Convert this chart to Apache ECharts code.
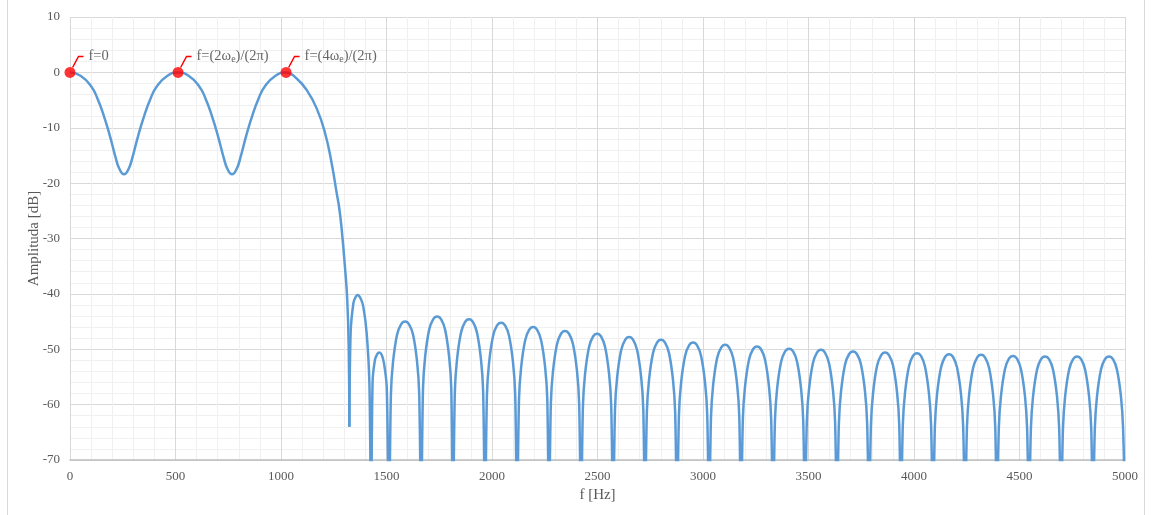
<!DOCTYPE html>
<html>
<head>
<meta charset="utf-8">
<script src="https://cdn.jsdelivr.net/npm/echarts@6/dist/echarts.min.js"></script>
<style>
    html, body { margin: 0; padding: 0; background: #fff; }
    #chart { width: 1152px; height: 515px; }
</style>
</head>
<body>
<div id="chart"></div>
<script>
    // passband: 0 .. first null (Hz, dB)
    const passband = [
        [0, 0], [50, -0.6], [100, -2.5], [130, -4.7], [160, -7.8], [190, -11.6], [215, -15.2], [235, -17.5],
        [256, -18.4], [277, -17.5], [297, -15.2], [322, -11.6], [352, -7.8], [382, -4.7], [412, -2.5], [462, -0.6],
        [512, 0], [562, -0.6], [612, -2.5], [642, -4.7], [672, -7.8], [702, -11.6], [727, -15.2], [747, -17.5],
        [768, -18.4], [789, -17.5], [809, -15.2], [834, -11.6], [864, -7.8], [894, -4.7], [924, -2.5], [974, -0.6],
        [1024, 0], [1074, -1.1], [1122, -3.2], [1169, -6.5], [1209, -11.0], [1240, -16.4], [1264, -21.8],
        [1276, -24.5], [1288, -28.5], [1303, -35.1], [1314, -41.1], [1321, -50.1], [1324, -64]
    ];

    // first two lobes after the transition
    const transitionLobes = [
        [1324, -64], [1330, -47], [1343, -41.7], [1353, -40.6], [1363, -40.2], [1377, -40.8], [1390, -42.3],
        [1406, -47.1], [1419, -56.2], [1427, -80],
        [1434, -56], [1445, -52], [1456, -50.9], [1466, -50.6], [1477, -51.0], [1488, -52.5], [1501, -56.8]
    ];

    // stopband side lobes, one row per lobe
    const sideLobes = [
        [1512, -80], [1521, -58.0], [1531, -52.3], [1550, -47.4], [1569, -45.5], [1588, -45.0], [1607, -45.5], [1626, -47.4], [1645, -52.3], [1655, -58.0],
        [1664, -80], [1673, -57.1], [1683, -51.4], [1702, -46.5], [1721, -44.6], [1740, -44.1], [1759, -44.6], [1778, -46.5], [1797, -51.4], [1807, -57.1],
        [1815, -80], [1824, -57.6], [1834, -51.9], [1853, -47.0], [1872, -45.1], [1891, -44.6], [1910, -45.1], [1929, -47.0], [1948, -51.9], [1958, -57.6],
        [1967, -80], [1976, -58.2], [1986, -52.5], [2005, -47.6], [2024, -45.7], [2043, -45.2], [2062, -45.7], [2081, -47.6], [2100, -52.5], [2110, -58.2],
        [2119, -80], [2128, -59.0], [2138, -53.3], [2157, -48.4], [2176, -46.5], [2195, -46.0], [2214, -46.5], [2233, -48.4], [2252, -53.3], [2262, -59.0],
        [2270, -80], [2279, -59.7], [2289, -54.0], [2308, -49.1], [2327, -47.2], [2346, -46.7], [2365, -47.2], [2384, -49.1], [2403, -54.0], [2413, -59.7],
        [2422, -80], [2431, -60.2], [2441, -54.5], [2460, -49.6], [2479, -47.7], [2498, -47.2], [2517, -47.7], [2536, -49.6], [2555, -54.5], [2565, -60.2],
        [2574, -80], [2583, -60.8], [2593, -55.1], [2612, -50.2], [2631, -48.3], [2650, -47.8], [2669, -48.3], [2688, -50.2], [2707, -55.1], [2717, -60.8],
        [2725, -80], [2734, -61.3], [2744, -55.6], [2763, -50.7], [2782, -48.8], [2801, -48.3], [2820, -48.8], [2839, -50.7], [2858, -55.6], [2868, -61.3],
        [2877, -80], [2886, -61.8], [2896, -56.1], [2915, -51.2], [2934, -49.3], [2953, -48.8], [2972, -49.3], [2991, -51.2], [3010, -56.1], [3020, -61.8],
        [3029, -80], [3038, -62.2], [3048, -56.5], [3067, -51.6], [3086, -49.7], [3105, -49.2], [3124, -49.7], [3143, -51.6], [3162, -56.5], [3172, -62.2],
        [3180, -80], [3189, -62.5], [3199, -56.8], [3218, -51.9], [3237, -50.0], [3256, -49.5], [3275, -50.0], [3294, -51.9], [3313, -56.8], [3323, -62.5],
        [3332, -80], [3341, -62.9], [3351, -57.2], [3370, -52.3], [3389, -50.4], [3408, -49.9], [3427, -50.4], [3446, -52.3], [3465, -57.2], [3475, -62.9],
        [3483, -80], [3492, -63.1], [3502, -57.4], [3521, -52.5], [3540, -50.6], [3559, -50.1], [3578, -50.6], [3597, -52.5], [3616, -57.4], [3626, -63.1],
        [3635, -80], [3644, -63.4], [3654, -57.7], [3673, -52.8], [3692, -50.9], [3711, -50.4], [3730, -50.9], [3749, -52.8], [3768, -57.7], [3778, -63.4],
        [3787, -80], [3796, -63.6], [3806, -57.9], [3825, -53.0], [3844, -51.1], [3863, -50.6], [3882, -51.1], [3901, -53.0], [3920, -57.9], [3930, -63.6],
        [3938, -80], [3947, -63.7], [3957, -58.0], [3976, -53.1], [3995, -51.2], [4014, -50.7], [4033, -51.2], [4052, -53.1], [4071, -58.0], [4081, -63.7],
        [4090, -80], [4099, -63.9], [4109, -58.2], [4128, -53.3], [4147, -51.4], [4166, -50.9], [4185, -51.4], [4204, -53.3], [4223, -58.2], [4233, -63.9],
        [4242, -80], [4251, -64.0], [4261, -58.3], [4280, -53.4], [4299, -51.5], [4318, -51.0], [4337, -51.5], [4356, -53.4], [4375, -58.3], [4385, -64.0],
        [4393, -80], [4402, -64.2], [4412, -58.5], [4431, -53.6], [4450, -51.7], [4469, -51.2], [4488, -51.7], [4507, -53.6], [4526, -58.5], [4536, -64.2],
        [4545, -80], [4554, -64.3], [4564, -58.6], [4583, -53.7], [4602, -51.8], [4621, -51.3], [4640, -51.8], [4659, -53.7], [4678, -58.6], [4688, -64.3],
        [4697, -80], [4706, -64.3], [4716, -58.6], [4735, -53.7], [4754, -51.8], [4773, -51.3], [4792, -51.8], [4811, -53.7], [4830, -58.6], [4840, -64.3],
        [4848, -80], [4857, -64.3], [4867, -58.6], [4886, -53.7], [4905, -51.8], [4924, -51.3], [4943, -51.8], [4962, -53.7], [4981, -58.6], [4991, -64.3],
        [5000, -80]
    ];

    // marked passband maxima
    const markerHz = [0, 512, 1024];
    const markerDb = [0, 0, 0];
    const markerLabels = ['f=0', 'f=(2ω{s|e})/(2π)', 'f=(4ω{s|e})/(2π)'];

    const lineColor = '#5b9bd5';
    const font = '"Liberation Serif", "Times New Roman", serif';

    const chart = echarts.init(document.getElementById('chart'));

    const option = {
        animation: false,
        textStyle: { fontFamily: font },
        graphic: [{
            type: 'rect',
            shape: { x: 7.5, y: -5, width: 1137, height: 530 },
            style: { fill: 'none', stroke: '#d9d9d9', lineWidth: 1 },
            silent: true,
        }],
        grid: { left: 70, right: 27, top: 17, bottom: 55 },
        xAxis: {
            type: 'value',
            min: 0,
            max: 5000,
            interval: 500,
            name: 'f [Hz]',
            nameLocation: 'middle',
            nameGap: 27,
            nameTextStyle: { fontFamily: font, fontSize: 15, color: '#595959' },
            axisLine: { show: true, onZero: false, lineStyle: { color: '#bfbfbf', width: 1.5 } },
            axisTick: { show: false },
            axisLabel: { fontFamily: font, fontSize: 13, color: '#595959', margin: 10, formatter: (v) => String(v) },
            splitLine: { show: true, lineStyle: { color: '#d9d9d9', width: 1 } },
            minorTick: { show: false, splitNumber: 5 },
            minorSplitLine: { show: true, lineStyle: { color: '#f0f0f0', width: 1 } },
        },
        yAxis: {
            type: 'value',
            min: -70,
            max: 10,
            interval: 10,
            name: 'Amplituda [dB]',
            nameLocation: 'middle',
            nameGap: 28,
            nameMoveOverlap: false,
            nameTextStyle: { fontFamily: font, fontSize: 15, color: '#595959' },
            axisLine: { show: false },
            axisTick: { show: false },
            axisLabel: { fontFamily: font, fontSize: 13, color: '#595959', margin: 10 },
            splitLine: { show: true, lineStyle: { color: '#d9d9d9', width: 1 } },
            minorTick: { show: false, splitNumber: 5 },
            minorSplitLine: { show: true, lineStyle: { color: '#f0f0f0', width: 1 } },
        },
        series: [
            {
                name: 'passband',
                type: 'line',
                data: passband,
                smooth: true,
                showSymbol: false,
                lineStyle: { color: lineColor, width: 2.5 },
                z: 2,
            },
            {
                name: 'stopband',
                type: 'line',
                data: transitionLobes.concat(sideLobes),
                smooth: 0.3,
                showSymbol: false,
                clip: true,
                lineStyle: { color: lineColor, width: 2.5, join: 'round' },
                z: 2,
            },
            {
                name: 'markers',
                type: 'scatter',
                data: markerHz.map((f, i) => [f, markerDb[i]]),
                symbolSize: 11,
                itemStyle: { color: '#ff0000' },
                z: 5,
                label: {
                    show: true,
                    position: 'right',
                    distance: 5,
                    formatter: (p) => markerLabels[p.dataIndex],
                    fontFamily: font,
                    fontSize: 14.5,
                    color: '#404040',
                    lineHeight: 16,
                    padding: [0, 0, 0, 5],
                    rich: {
                        s: { fontSize: 10, lineHeight: 10, verticalAlign: 'bottom', color: '#404040' },
                    },
                },
                labelLayout: { dx: 3, dy: -16 },
                labelLine: {
                    show: true,
                    length2: 5,
                    lineStyle: { color: '#ff0000', width: 1.5 },
                },
            },
        ],
    };

    chart.setOption(option);
</script>
</body>
</html>
